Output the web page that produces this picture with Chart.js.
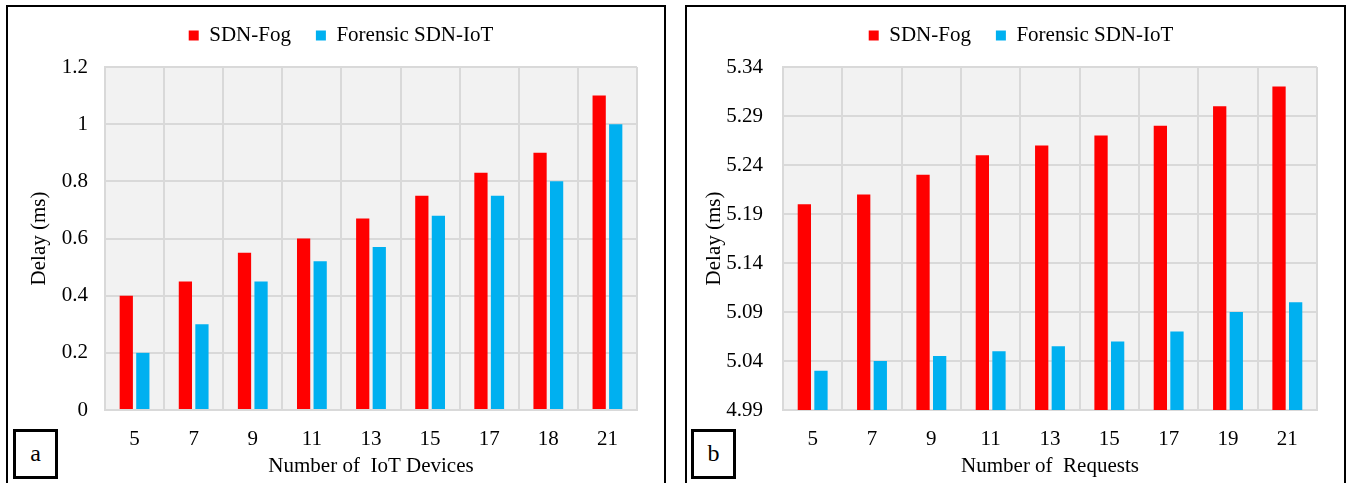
<!DOCTYPE html>
<html>
<head>
<meta charset="utf-8">
<script src="https://cdn.jsdelivr.net/npm/chart.js@4.4.0/dist/chart.umd.min.js"></script>
<style>
  html, body { margin: 0; padding: 0; background: #fff; }
  body { width: 1347px; height: 483px; position: relative; overflow: hidden; }
  .panel { position: absolute; top: 5px; height: 500px; border: 2px solid #000; box-sizing: border-box; }
  .tag { position: absolute; width: 45px; height: 50px; border: 3px solid #000; box-sizing: border-box;
         font: 24px "Liberation Serif", serif; text-align: center; line-height: 42px; background: #fff; }
  canvas { position: absolute; top: 0; }
</style>
</head>
<body>
<div class="panel" style="left:6px; width:660px;"></div>
<div class="panel" style="left:685px; width:661px;"></div>
<div style="position:absolute; left:0; top:0; width:673px; height:483px;"><canvas id="chartA"></canvas></div>
<div style="position:absolute; left:673px; top:0; width:674px; height:483px;"><canvas id="chartB"></canvas></div>
<div class="tag" style="left:13px; top:429px;">a</div>
<div class="tag" style="left:691px; top:429px;">b</div>
<script>
// panel a: delay vs number of IoT devices
const devices = ['5', '7', '9', '11', '13', '15', '17', '18', '21'];
const fogDelayA = [0.4, 0.45, 0.55, 0.6, 0.67, 0.75, 0.83, 0.9, 1.1];
const forensicDelayA = [0.2, 0.3, 0.45, 0.52, 0.57, 0.68, 0.75, 0.8, 1.0];
const yTicksA = [0, 0.2, 0.4, 0.6, 0.8, 1, 1.2];

// panel b: delay vs number of requests
const requests = ['5', '7', '9', '11', '13', '15', '17', '19', '21'];
const fogDelayB = [5.2, 5.21, 5.23, 5.25, 5.26, 5.27, 5.28, 5.30, 5.32];
const forensicDelayB = [5.03, 5.04, 5.045, 5.05, 5.055, 5.06, 5.07, 5.09, 5.10];
const yTicksB = [4.99, 5.04, 5.09, 5.14, 5.19, 5.24, 5.29, 5.34];

const seriesNames = ['SDN-Fog', 'Forensic SDN-IoT'];
const RED = '#ff0000';
const BLUE = '#00b0f0';
const GRID = '#d9d9d9';

Chart.defaults.font.family = '"Liberation Serif", serif';
Chart.defaults.color = '#000';

// grey plot background like the Excel original
const plotBg = {
  id: 'plotBg',
  beforeDraw(chart) {
    const { ctx, chartArea: a } = chart;
    ctx.save();
    ctx.fillStyle = '#f2f2f2';
    ctx.fillRect(a.left, a.top, a.right - a.left, a.bottom - a.top);
    ctx.restore();
  }
};

// extra room under the legend so the plot starts lower
const legendGap = {
  id: 'legendGap',
  afterInit(chart) {
    const legend = chart.legend;
    const fit = legend.fit;
    legend.fit = function () {
      fit.call(this);
      this.height += 11;
    };
  }
};

const makeChart = (id, cfg) => {
  const canvas = document.getElementById(id);
  canvas.width = cfg.width;
  canvas.height = 483;
  return new Chart(canvas.getContext('2d'), {
    type: 'bar',
    data: {
      labels: cfg.labels,
      datasets: [
        { label: seriesNames[0], data: cfg.fog, backgroundColor: RED,
          barPercentage: 0.8, categoryPercentage: 0.56 },
        { label: seriesNames[1], data: cfg.forensic, backgroundColor: BLUE,
          barPercentage: 0.8, categoryPercentage: 0.56 }
      ]
    },
    options: {
      responsive: false,
      animation: false,
      layout: { padding: { left: cfg.padLeft, right: cfg.padRight, top: 0, bottom: 0 } },
      plugins: {
        legend: {
          position: 'top',
          labels: { boxWidth: 10, boxHeight: 10, padding: 25, font: { size: 21 } }
        },
        tooltip: { enabled: false }
      },
      scales: {
        x: {
          grid: { color: GRID, lineWidth: 2, offset: true, drawTicks: false },
          border: { color: GRID, width: 2 },
          ticks: { padding: 17, font: { size: 21 } },
          title: { display: true, text: cfg.xTitle, font: { size: 21 }, padding: { top: 0, bottom: 4 } },
          afterFit: scale => { scale.height = 73; }
        },
        y: {
          min: cfg.ticks[0],
          max: cfg.ticks[cfg.ticks.length - 1],
          grid: { color: GRID, lineWidth: 2, drawTicks: false },
          border: { color: GRID, width: 2 },
          afterBuildTicks: axis => { axis.ticks = cfg.ticks.map(v => ({ value: v })); },
          ticks: { padding: cfg.tickPad, font: { size: 21 }, callback: cfg.fmt },
          title: { display: true, text: 'Delay (ms)', font: { size: 21 }, padding: { top: cfg.titlePad, bottom: 0 } },
          afterFit: scale => { scale.width = cfg.yWidth; }
        }
      }
    },
    plugins: [plotBg, legendGap]
  });
};

makeChart('chartA', {
  width: 673, labels: devices, fog: fogDelayA, forensic: forensicDelayA, ticks: yTicksA,
  xTitle: 'Number of  IoT Devices', padLeft: 45, padRight: 36, yWidth: 60, titlePad: -18, tickPad: 17,
  fmt: v => String(v)
});

makeChart('chartB', {
  width: 674, labels: requests, fog: fogDelayB, forensic: forensicDelayB, ticks: yTicksB,
  xTitle: 'Number of  Requests', padLeft: 52, padRight: 30, yWidth: 58, titlePad: -23, tickPad: 20,
  fmt: v => v.toFixed(2)
});
</script>
</body>
</html>
